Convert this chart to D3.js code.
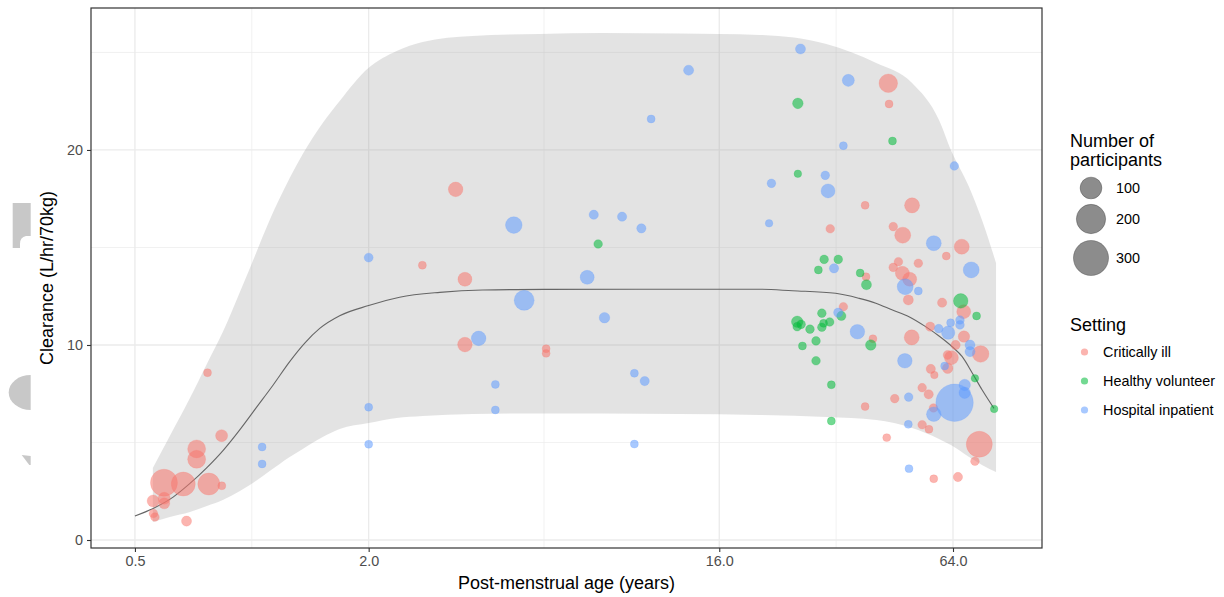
<!DOCTYPE html>
<meta charset="utf-8">
<style>
  body { margin: 0; background: #fff; }
  text { font-family: "Liberation Sans", Arial, Helvetica, sans-serif; }
</style>
<!-- Load d3.js -->
<script src="https://d3js.org/d3.v7.min.js"></script>

<div id="my_dataviz"></div>

<script>

// axis breaks and labels
var xBreaks = [0.5, 2, 16, 64];
var xLabels = ["0.5", "2.0", "16.0", "64.0"];
var xMinor = [1, 5.657, 32];
var yBreaks = [0, 10, 20];
var yMinor = [5, 15, 25];

// legends
var settings = ["Critically ill", "Healthy volunteer", "Hospital inpatient"];
var settingColors = ["#F8766D", "#00BA38", "#619CFF"];
var sizeBreaks = [100, 200, 300];

// [post-menstrual age (years), clearance (L/hr/70kg), participants]
var criticallyIll = [
  [0.769, 8.58, 6], [0.836, 5.35, 22], [0.721, 4.67, 63], [0.721, 4.14, 63],
  [0.594, 2.94, 166], [0.666, 2.87, 126], [0.775, 2.87, 103], [0.837, 2.78, 6],
  [0.557, 2.00, 22], [0.595, 2.14, 22], [0.595, 1.88, 17], [0.558, 1.36, 8],
  [0.563, 1.18, 8], [0.679, 0.97, 13], [3.35, 17.98, 37], [2.75, 14.09, 6],
  [3.54, 13.37, 33], [3.54, 10.02, 37], [5.73, 9.81, 6], [5.73, 9.57, 6],
  [43.6, 23.42, 68], [43.8, 22.36, 6], [38.0, 17.16, 6], [50.2, 17.16, 40],
  [30.9, 15.96, 8], [44.9, 16.07, 8], [47.5, 15.63, 47], [67.4, 15.04, 40],
  [61.5, 14.56, 6], [46.3, 14.27, 8], [52.1, 14.19, 8], [44.9, 13.98, 8],
  [47.4, 13.68, 33], [38.2, 13.50, 6], [49.5, 13.37, 33], [49.1, 12.31, 13],
  [60.0, 12.17, 10], [68.2, 11.71, 33], [33.4, 11.96, 8], [39.8, 10.32, 6],
  [38.0, 6.84, 6], [43.2, 5.25, 6], [50.1, 10.39, 40], [56.1, 8.77, 10],
  [57.3, 8.46, 5], [55.9, 10.94, 10], [68.3, 10.43, 19], [75.4, 9.54, 52],
  [65.0, 10.00, 10], [63.4, 9.35, 33], [62.0, 9.49, 9], [62.0, 8.81, 15],
  [53.3, 7.81, 8], [55.4, 7.47, 10], [45.3, 7.25, 8], [57.0, 6.77, 8],
  [53.3, 5.91, 8], [55.5, 5.68, 6], [74.8, 4.91, 152], [72.9, 4.04, 8],
  [57.1, 3.14, 6], [65.9, 3.23, 10]
];

var healthyVolunteer = [
  [7.80, 15.18, 8], [25.5, 22.39, 15], [44.7, 20.46, 6], [25.5, 18.78, 5],
  [29.8, 14.39, 8], [32.4, 14.39, 8], [28.8, 13.85, 6], [36.9, 13.69, 6],
  [38.3, 13.09, 13], [67.0, 12.26, 37], [73.6, 11.49, 6], [33.0, 11.49, 10],
  [29.4, 11.63, 8], [25.4, 11.19, 19], [26.0, 11.06, 8], [25.4, 10.94, 8],
  [27.4, 10.81, 8], [29.4, 10.91, 8], [29.7, 11.11, 6], [30.8, 11.18, 8],
  [39.3, 10.00, 15], [26.2, 9.95, 6], [28.4, 10.21, 8], [28.4, 9.19, 8],
  [31.1, 7.96, 6], [31.1, 6.10, 6], [72.9, 8.29, 5], [81.7, 6.72, 5]
];

var hospitalInpatient = [
  [1.063, 4.77, 6], [1.063, 3.90, 6], [2.0, 14.48, 9], [2.0, 6.81, 6],
  [2.0, 4.91, 6], [13.34, 24.09, 13], [10.68, 21.59, 6], [4.73, 16.15, 52],
  [7.60, 16.68, 10], [8.99, 16.58, 10], [10.08, 15.98, 10], [7.31, 13.47, 33],
  [5.03, 12.29, 82], [8.10, 11.40, 15], [3.84, 10.34, 37], [9.67, 8.55, 6],
  [10.28, 8.15, 10], [4.24, 7.98, 6], [4.24, 6.67, 6], [9.67, 4.92, 6],
  [21.8, 18.29, 8], [21.5, 16.24, 5], [25.9, 25.18, 13], [34.4, 23.57, 22],
  [33.4, 20.22, 6], [64.5, 19.18, 8], [30.0, 18.70, 8], [30.5, 17.90, 33],
  [57.1, 15.22, 40], [71.3, 13.85, 47], [31.6, 13.93, 10], [48.2, 12.99, 47],
  [52.1, 12.77, 6], [32.4, 11.66, 10], [36.3, 10.68, 37], [48.1, 9.19, 37],
  [58.8, 10.84, 8], [62.2, 10.63, 29], [63.1, 11.14, 6], [66.7, 11.28, 8],
  [66.7, 11.03, 8], [70.8, 10.00, 13], [70.8, 9.66, 13], [60.9, 8.92, 6],
  [49.2, 7.33, 8], [64.6, 7.04, 346], [68.6, 7.95, 19], [68.6, 7.55, 19],
  [57.1, 6.45, 37], [49.1, 5.93, 6], [49.3, 3.66, 6]
];

// fitted line
var fitAge = [0.5, 0.557, 0.627, 0.693, 0.765, 0.844, 0.931, 1.028, 1.135, 1.252,
  1.369, 1.496, 1.684, 2.0, 2.403, 3.05, 3.93, 5.66, 11.3, 20.3, 24.7, 31.9, 36.7,
  40.5, 44.7, 49.3, 54.4, 58.9, 63.7, 67.6, 71.8, 76.1, 81.6];
var fitClearance = [1.23, 1.62, 2.2, 2.9, 3.7, 4.6, 5.65, 6.8, 7.95, 9.15,
  10.1, 10.85, 11.5, 12.02, 12.45, 12.7, 12.82, 12.85, 12.86, 12.86, 12.78, 12.65, 12.39,
  12.14, 11.79, 11.45, 10.94, 10.46, 9.91, 9.40, 8.55, 7.69, 6.75];

// grey band
var bandAge = [0.556, 0.615, 0.693, 0.766, 0.842, 0.932, 0.988, 1.112, 1.252, 1.353,
  1.523, 1.684, 2.0, 2.361, 2.754, 3.70, 5.51, 8, 12.62, 20.3, 30.2, 40.6, 50.2,
  58.9, 63.2, 70.4, 76.0, 82.6];
var bandUpper = [3.69, 5.33, 7.28, 9.03, 10.67, 12.72, 13.92, 16.41, 18.56, 19.79,
  21.38, 22.51, 24.21, 25.08, 25.54, 25.85, 25.95, 26.0, 25.97, 25.90, 25.44, 24.46, 23.44,
  21.54, 20.0, 18.10, 16.41, 14.21];
var bandLower = [0.92, 1.18, 1.44, 1.74, 2.05, 2.51, 2.82, 3.54, 4.26, 4.67,
  5.28, 5.69, 6.0, 6.26, 6.36, 6.46, 6.49, 6.49, 6.46, 6.41, 6.31, 6.15, 5.74,
  5.18, 4.87, 4.26, 3.85, 3.49];

// set the dimensions of the graph
var width = 1224, height = 597;
var panel = {left: 91, right: 1042, top: 8, bottom: 548};

var svg = d3.select("#my_dataviz")
  .append("svg")
    .attr("width", width)
    .attr("height", height);

var x = d3.scaleLog().base(2)
  .domain([0.3853, 108.5])
  .range([panel.left, panel.right]);
var y = d3.scaleLinear()
  .domain([-0.41, 27.28])
  .range([panel.bottom, panel.top]);
var r = d3.scaleSqrt()
  .domain([5, 350])
  .range([3.8, 18.8]);
var colour = d3.scaleOrdinal()
  .domain(settings)
  .range(settingColors);

// odd grey shapes at the left edge
var deco = svg.append("g").attr("fill", "#c8c8c8");
deco.append("path").attr("d", "M12.7,203 H30.7 V236 H26 Q20,237 20,244 V248 H12.7 Z");
deco.append("path").attr("d", "M30.7,375 A22,17.5 0 0 0 30.7,410 Z");
deco.append("path").attr("d", "M21.7,455 L30.7,456 L30.7,465 L29.3,465 Z");

// grid
var grid = svg.append("g");
grid.selectAll(".xminor").data(xMinor).enter().append("line")
  .attr("x1", function(d) { return x(d); }).attr("x2", function(d) { return x(d); })
  .attr("y1", panel.top).attr("y2", panel.bottom)
  .attr("stroke", "#ebebeb").attr("stroke-width", 0.7);
grid.selectAll(".yminor").data(yMinor).enter().append("line")
  .attr("y1", function(d) { return y(d); }).attr("y2", function(d) { return y(d); })
  .attr("x1", panel.left).attr("x2", panel.right)
  .attr("stroke", "#ebebeb").attr("stroke-width", 0.7);
grid.selectAll(".xmajor").data(xBreaks).enter().append("line")
  .attr("x1", function(d) { return x(d); }).attr("x2", function(d) { return x(d); })
  .attr("y1", panel.top).attr("y2", panel.bottom)
  .attr("stroke", "#ebebeb").attr("stroke-width", 1.3);
grid.selectAll(".ymajor").data(yBreaks).enter().append("line")
  .attr("y1", function(d) { return y(d); }).attr("y2", function(d) { return y(d); })
  .attr("x1", panel.left).attr("x2", panel.right)
  .attr("stroke", "#ebebeb").attr("stroke-width", 1.3);

// confidence band
var band = bandAge.map(function(a, i) { return [a, bandLower[i], bandUpper[i]]; });
svg.append("path")
  .datum(band)
  .attr("fill", "#999999")
  .attr("fill-opacity", 0.27)
  .attr("d", d3.area()
    .curve(d3.curveMonotoneX)
    .x(function(d) { return x(d[0]); })
    .y0(function(d) { return y(d[1]); })
    .y1(function(d) { return y(d[2]); }));

// fitted line
var fit = fitAge.map(function(a, i) { return [a, fitClearance[i]]; });
svg.append("path")
  .datum(fit)
  .attr("fill", "none")
  .attr("stroke", "#666666")
  .attr("stroke-width", 1.1)
  .attr("d", d3.line()
    .curve(d3.curveMonotoneX)
    .x(function(d) { return x(d[0]); })
    .y(function(d) { return y(d[1]); }));

// points
var points = [];
[criticallyIll, healthyVolunteer, hospitalInpatient].forEach(function(arr, k) {
  arr.forEach(function(p) {
    points.push({age: p[0], cl: p[1], n: p[2], setting: settings[k]});
  });
});

svg.append("g").selectAll("circle")
  .data(points)
  .enter()
  .append("circle")
    .attr("cx", function(d) { return x(d.age); })
    .attr("cy", function(d) { return y(d.cl); })
    .attr("r", function(d) { return r(d.n); })
    .attr("fill", function(d) { return colour(d.setting); })
    .attr("fill-opacity", 0.55)
    .attr("stroke", function(d) { return colour(d.setting); })
    .attr("stroke-opacity", 0.35)
    .attr("stroke-width", 0.6);

// panel border
svg.append("rect")
  .attr("x", panel.left).attr("y", panel.top)
  .attr("width", panel.right - panel.left)
  .attr("height", panel.bottom - panel.top)
  .attr("fill", "none")
  .attr("stroke", "#333333")
  .attr("stroke-width", 1.2);

// axes
var xAxis = svg.append("g")
  .attr("transform", "translate(0," + panel.bottom + ")")
  .call(d3.axisBottom(x)
    .tickValues(xBreaks)
    .tickFormat(function(d, i) { return xLabels[i]; })
    .tickSize(4)
    .tickPadding(3.5)
    .tickSizeOuter(0));
var yAxis = svg.append("g")
  .attr("transform", "translate(" + panel.left + ",0)")
  .call(d3.axisLeft(y)
    .tickValues(yBreaks)
    .tickSize(4)
    .tickPadding(4)
    .tickSizeOuter(0));
[xAxis, yAxis].forEach(function(a) {
  a.select(".domain").remove();
  a.selectAll(".tick line").attr("stroke", "#333333").attr("stroke-width", 1.1);
  a.selectAll(".tick text")
    .attr("fill", "#4d4d4d")
    .style("font-size", "14.4px")
    .style("font-family", "'Liberation Sans', Arial, sans-serif");
});

// axis titles
svg.append("text")
  .attr("x", (panel.left + panel.right) / 2)
  .attr("y", 589)
  .attr("text-anchor", "middle")
  .style("font-size", "18px")
  .text("Post-menstrual age (years)");
svg.append("text")
  .attr("transform", "translate(53," + ((panel.top + panel.bottom) / 2) + ") rotate(-90)")
  .attr("text-anchor", "middle")
  .style("font-size", "18px")
  .text("Clearance (L/hr/70kg)");

// size legend
var legend = svg.append("g");
legend.append("text").attr("x", 1070).attr("y", 147).style("font-size", "18px").text("Number of");
legend.append("text").attr("x", 1070).attr("y", 166).style("font-size", "18px").text("participants");
var sizeKeyY = [188, 219, 258];
legend.selectAll(".sizekey").data(sizeBreaks).enter().append("circle")
  .attr("cx", 1091)
  .attr("cy", function(d, i) { return sizeKeyY[i]; })
  .attr("r", function(d) { return r(d); })
  .attr("fill", "#000")
  .attr("fill-opacity", 0.45)
  .attr("stroke", "#333")
  .attr("stroke-opacity", 0.6)
  .attr("stroke-width", 0.6);
legend.selectAll(".sizelabel").data(sizeBreaks).enter().append("text")
  .attr("x", 1116)
  .attr("y", function(d, i) { return sizeKeyY[i] + 5; })
  .style("font-size", "14.4px")
  .text(function(d) { return d; });

// colour legend
legend.append("text").attr("x", 1070).attr("y", 331).style("font-size", "18px").text("Setting");
var colKeyY = [352, 381, 410];
legend.selectAll(".colkey").data(settings).enter().append("circle")
  .attr("cx", 1084.5)
  .attr("cy", function(d, i) { return colKeyY[i]; })
  .attr("r", 3.6)
  .attr("fill", function(d) { return colour(d); })
  .attr("fill-opacity", 0.55);
legend.selectAll(".collabel").data(settings).enter().append("text")
  .attr("x", 1103)
  .attr("y", function(d, i) { return colKeyY[i] + 5; })
  .style("font-size", "14.4px")
  .text(function(d) { return d; });

</script>
